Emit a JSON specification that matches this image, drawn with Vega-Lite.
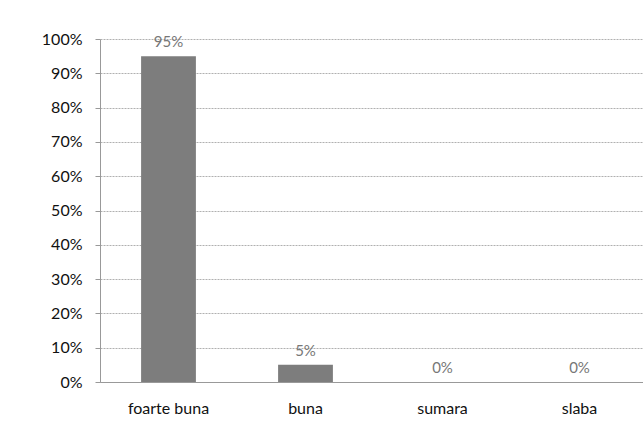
{
  "$schema": "https://vega.github.io/schema/vega-lite/v6.json",
  "autosize": {"type": "none"},
  "width": 548,
  "height": 343,
  "padding": {"left": 100, "top": 39, "right": 0, "bottom": 50},
  "background": "white",
  "config": {
    "view": {"stroke": null},
    "font": "Lato"
  },
  "data": {
    "values": [
      {"categorie": "foarte buna", "procent": 0.95},
      {"categorie": "buna", "procent": 0.05},
      {"categorie": "sumara", "procent": 0.0},
      {"categorie": "slaba", "procent": 0.0}
    ]
  },
  "encoding": {
    "x": {
      "field": "categorie",
      "type": "nominal",
      "sort": null,
      "scale": {"paddingInner": 0.6, "paddingOuter": 0.3},
      "axis": {
        "title": null,
        "labelAngle": 0,
        "labelFont": "Lato",
        "labelFontSize": 16,
        "labelColor": "#111111",
        "labelPadding": 18,
        "domainColor": "#999999",
        "ticks": false,
        "grid": false
      }
    },
    "y": {
      "field": "procent",
      "type": "quantitative",
      "scale": {"domain": [0, 1], "nice": false},
      "axis": {
        "title": null,
        "format": ".0%",
        "values": [0, 0.1, 0.2, 0.3, 0.4, 0.5, 0.6, 0.7, 0.8, 0.9, 1.0],
        "labelFont": "Lato",
        "labelFontSize": 16,
        "labelColor": "#111111",
        "labelPadding": 13,
        "tickSize": 5,
        "tickColor": "#999999",
        "domainColor": "#999999",
        "gridColor": "#b0b0b0",
        "gridDash": [2, 1],
        "gridWidth": 1
      }
    }
  },
  "layer": [
    {
      "mark": {"type": "bar", "color": "#7d7d7d"}
    },
    {
      "mark": {"type": "text", "baseline": "bottom", "dy": -6, "fontSize": 15, "color": "#777777", "font": "Lato"},
      "encoding": {
        "text": {"field": "procent", "type": "quantitative", "format": ".0%"}
      }
    }
  ]
}
